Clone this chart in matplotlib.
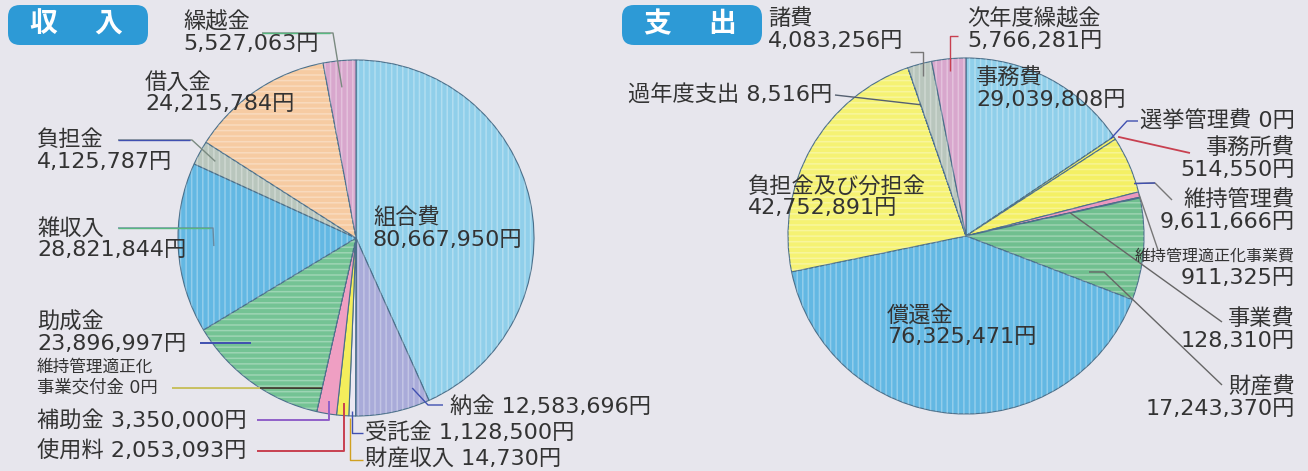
import numpy as np
import matplotlib
matplotlib.use("Agg")
import matplotlib.pyplot as plt
from matplotlib.patches import FancyBboxPatch

plt.rcParams['font.family'] = ['DejaVu Sans', 'Noto Sans CJK JP']

W, H = 1308, 471

# --- data (円) ---
inc_names = ['組合費', '納金', '財産収入', '受託金', '使用料', '補助金',
             '維持管理適正化事業交付金', '助成金', '雑収入', '負担金', '借入金', '繰越金']
inc_values = [80667950, 12583696, 14730, 1128500, 2053093, 3350000,
              0, 23896997, 28821844, 4125787, 24215784, 5527063]
inc_colors = ['#90cfea', '#a9abd9', '#f4c08e', '#ebe8f2', '#f4ee5c', '#ef9fc3',
              '#d8d060', '#74c394', '#63b8e3', '#b9c6bd', '#f6cba2', '#d8a7cd']
inc_hatch = ['|||', '|||', '', '', '', '', '', '---', '|||', '|||', '---', '|||']

exp_names = ['事務費', '選挙管理費', '事務所費', '維持管理費', '維持管理適正化事業費',
             '事業費', '財産費', '償還金', '負担金及び分担金', '過年度支出', '諸費', '次年度繰越金']
exp_values = [29039808, 0, 514550, 9611666, 911325,
              128310, 17243370, 76325471, 42752891, 8516, 4083256, 5766281]
exp_colors = ['#90cfea', '#3a6fb0', '#f2ee6a', '#f4f064', '#ec98bf',
              '#e87878', '#70bf8f', '#63b8e3', '#f5f273', '#c8c8a0', '#b9c6bd', '#d8a7cd']
exp_hatch = ['|||', '', '', '---', '', '', '---', '|||', '---', '', '|||', '|||']


def fy(y):
    return H - y


fig = plt.figure(figsize=(W / 100, H / 100), dpi=100)
fig.patch.set_facecolor('#e7e6ed')
ax = fig.add_axes([0, 0, 1, 1])
ax.set_facecolor('#e7e6ed')

plt.rcParams['hatch.linewidth'] = 1.1


def draw_pie(values, colors, hatches, cx, cy, r):
    wedges, _ = ax.pie(values, colors=colors, startangle=90, counterclock=False,
                       center=(cx, fy(cy)), radius=r,
                       wedgeprops=dict(edgecolor='#4a6f8a', linewidth=0.8))
    over, _ = ax.pie(values, colors=['none'] * len(values), startangle=90,
                     counterclock=False, center=(cx, fy(cy)), radius=r,
                     wedgeprops=dict(linewidth=0))
    for w, h in zip(over, hatches):
        w.set_hatch(h)
        w.set_edgecolor((1, 1, 1, 0.3))
    return wedges


def anchor(w, fr, ft=0.5):
    a = np.deg2rad(w.theta1 + (w.theta2 - w.theta1) * ft)
    cx, cy = w.center
    return cx + w.r * fr * np.cos(a), cy + w.r * fr * np.sin(a)


def leader(pts, color='#555555', lw=1.0):
    xs = [p[0] for p in pts]
    ys = [p[1] for p in pts]
    ax.plot(xs, ys, color=color, lw=lw, solid_capstyle='butt')


def P(x, y):
    return (x, fy(y))


def label(x, y, s, ha='left', size=16, color='#333333'):
    ax.text(x, fy(y), s, ha=ha, va='center', fontsize=size, color=color)


def label2(x, y, top, bottom, ha='left', size=16):
    label(x, y, top, ha=ha, size=size)
    label(x, y + 22, bottom, ha=ha, size=size)


wi = draw_pie(inc_values, inc_colors, inc_hatch, 356, 238, 178)
we = draw_pie(exp_values, exp_colors, exp_hatch, 966, 236, 178)
ax.set_xlim(0, W)
ax.set_ylim(0, H)
ax.set_aspect('auto')
ax.axis('off')

# title boxes
for x0, t1, t2 in [(8, '収', '入'), (622, '支', '出')]:
    box = FancyBboxPatch((x0, fy(45)), 140, 40, boxstyle='round,pad=0,rounding_size=12',
                         facecolor='#2d9ad6', edgecolor='none')
    ax.add_patch(box)
    ax.text(x0 + 35, fy(24), t1, ha='center', va='center', fontsize=20,
            color='white', fontweight='bold')
    ax.text(x0 + 100, fy(24), t2, ha='center', va='center', fontsize=20,
            color='white', fontweight='bold')

fmt = lambda v: f'{v:,}円'
I = dict(zip(inc_names, wi))
V = dict(zip(inc_names, inc_values))

# --- income labels ---
label2(183, 22, '繰越金', fmt(V['繰越金']))
a = anchor(I['繰越金'], 0.85)
leader([P(262, 33), P(333, 33), a], '#7a8a80')
leader([P(262, 33), P(330, 33)], '#58b880')

label2(145, 82, '借入金', fmt(V['借入金']))

label2(37, 140, '負担金', fmt(V['負担金']))
leader([P(118, 140), P(192, 140), anchor(I['負担金'], 0.9)], '#7a8a80')
leader([P(118, 140), P(190, 140)], '#4050b0')

label2(37, 228, '雑収入', fmt(V['雑収入']))
leader([P(118, 228), P(213, 228), anchor(I['雑収入'], 0.8)], '#6a8aa0')
leader([P(118, 228), P(210, 228)], '#58b880')

label2(373, 218, '組合費', fmt(V['組合費']))

label2(37, 322, '助成金', fmt(V['助成金']))
a = anchor(I['助成金'], 0.82, 0.28)
leader([P(200, 343), (a[0], fy(343))], '#4050b0', 1.4)

label(37, 367, '維持管理適正化', size=12)
label(37, 388, '事業交付金 ' + fmt(V['維持管理適正化事業交付金']), size=12.5)
a = anchor(I['維持管理適正化事業交付金'], 0.865, 0)
leader([P(172, 388), a], '#c8c060', 1.4)
leader([P(260, 388), a], '#333333', 1.2)

label(37, 420, '補助金 ' + fmt(V['補助金']))
a = anchor(I['補助金'], 0.93)
leader([P(257, 420), (a[0], fy(420)), a], '#9060c8', 1.4)

label(37, 451, '使用料 ' + fmt(V['使用料']))
a = anchor(I['使用料'], 0.93)
leader([P(257, 451), (a[0], fy(451)), a], '#c84050', 1.4)

label(365, 433, '受託金 ' + fmt(V['受託金']))
a = anchor(I['受託金'], 0.97)
leader([P(363, 433), (a[0], fy(433)), a], '#4050b0')

label(365, 458, '財産収入 ' + fmt(V['財産収入']))
a = anchor(I['財産収入'], 0.99)
leader([P(363, 460), (a[0] - 6, fy(460)), (a[0] - 6, a[1] - 4)], '#d0a020')

label(450, 407, '納金 ' + fmt(V['納金']))
leader([P(443, 405), P(428, 405), anchor(I['納金'], 0.9, 0.85)], '#4050b0')

# --- expenditure labels ---
E = dict(zip(exp_names, we))
U = dict(zip(exp_names, exp_values))

label2(768, 19, '諸費', fmt(U['諸費']))
a = anchor(E['諸費'], 0.93)
leader([P(910, 52), (a[0], fy(52)), a], '#777777')

label2(967, 19, '次年度繰越金', fmt(U['次年度繰越金']))
a = anchor(E['次年度繰越金'], 0.93)
leader([P(958, 36), (a[0], fy(36)), a], '#c84050')

label(628, 95, '過年度支出 ' + fmt(U['過年度支出']))
leader([P(835, 95), anchor(E['過年度支出'], 0.78)], '#556070')

label2(976, 78, '事務費', fmt(U['事務費']))

label(1140, 121, '選挙管理費 ' + fmt(U['選挙管理費']))
leader([P(1138, 121), P(1127, 121), anchor(E['選挙管理費'], 0.98, 0)], '#4050b0')

label2(1295, 148, '事務所費', fmt(U['事務所費']), ha='right')
leader([P(1190, 153), anchor(E['事務所費'], 1.02, 0.2)], '#c84050', 1.3)

label2(1295, 200, '維持管理費', fmt(U['維持管理費']), ha='right')
a = anchor(E['維持管理費'], 0.99, 0.16)
leader([a, P(1155, 183), P(1172, 200)], '#777777')
leader([a, P(1155, 183)], '#4050b0')

label(1295, 256, '維持管理適正化事業費', ha='right', size=11.5)
label(1295, 278, fmt(U['維持管理適正化事業費']), ha='right')
leader([anchor(E['維持管理適正化事業費'], 1.0), P(1158, 250)], '#777777')

label2(1295, 319, '事業費', fmt(U['事業費']), ha='right')
leader([P(1222, 322), anchor(E['事業費'], 0.6)], '#666666')

label2(1295, 387, '財産費', fmt(U['財産費']), ha='right')
leader([anchor(E['財産費'], 0.72, 0.14), P(1104, 272), P(1222, 385)], '#666666')

label2(748, 186, '負担金及び分担金', fmt(U['負担金及び分担金']))
label2(887, 315, '償還金', fmt(U['償還金']))

fig.savefig('out.png', dpi=100, facecolor=fig.get_facecolor())
